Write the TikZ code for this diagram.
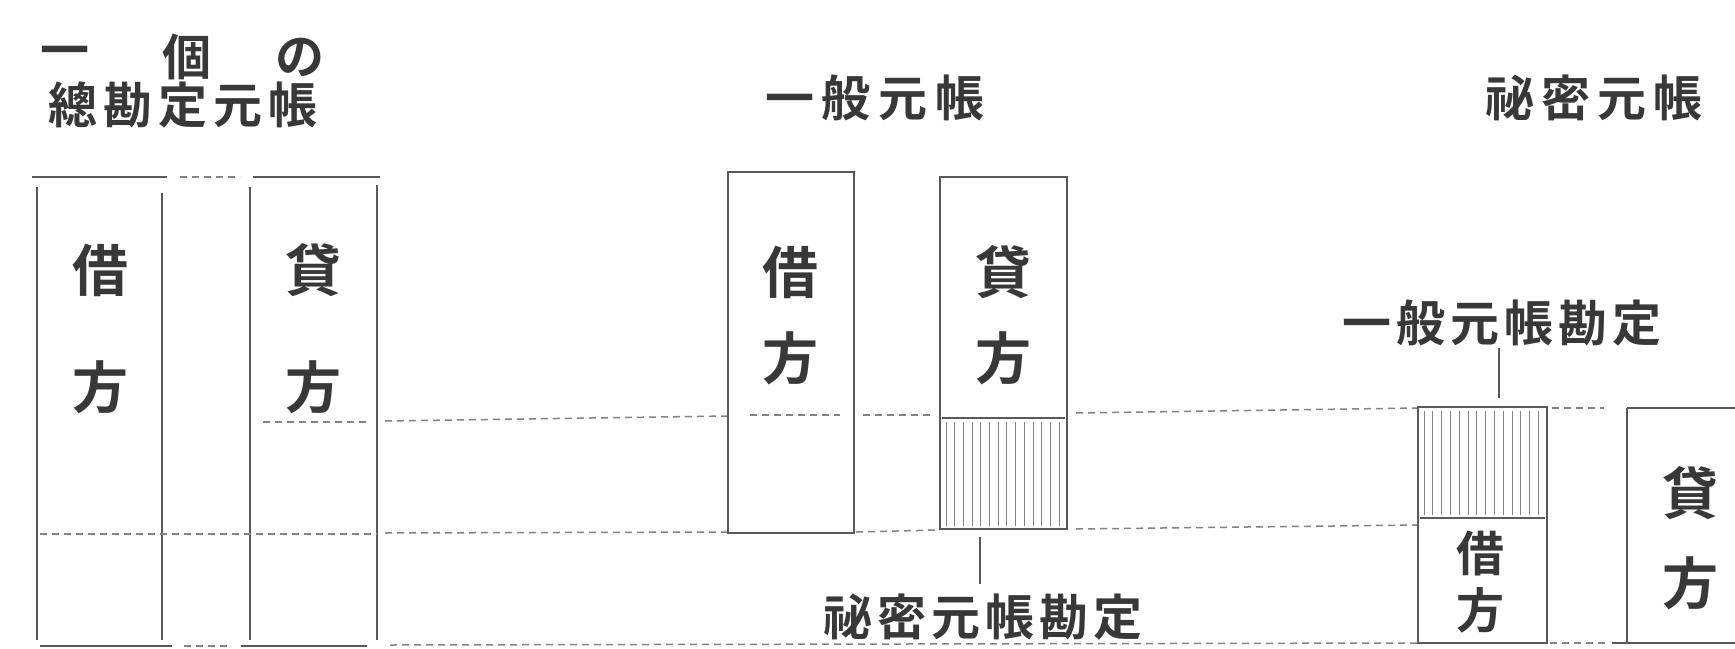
\documentclass[tikz,border=0pt]{standalone}
\usepackage{fontspec}
\newfontfamily\jpfont{Noto Sans CJK JP}[BoldFont={Noto Sans CJK JP Bold}]
\usetikzlibrary{calc}
\definecolor{ink}{HTML}{5A5A5A}
\definecolor{txt}{HTML}{383838}
\tikzset{
  rule/.style={draw=ink, line width=1.8pt},
  dashrule/.style={draw=ink!75, line width=1.5pt, dash pattern=on 7pt off 5pt},
  ledgerbox/.style={draw=ink, line width=1.8pt, inner sep=0pt, rectangle, fill=none},
  hatch/.style={draw=ink!75, line width=0.9pt},
  conn/.style={draw=ink, line width=1.3pt},
  bigchar/.style={font=\jpfont\bfseries\fontsize{56}{56}\selectfont, text=txt, inner sep=0pt},
  midchar/.style={font=\jpfont\bfseries\fontsize{48}{48}\selectfont, text=txt, inner sep=0pt},
  ttl/.style={font=\jpfont\bfseries\fontsize{49}{49}\selectfont, text=txt, inner sep=0pt},
}
\begin{document}
\begin{tikzpicture}[x=1pt, y=-1pt]
\useasboundingbox[fill=white] (0,0) rectangle (1735,648);

% ---------- titles ----------
\node[ttl] (t1a) at (65,57) {一};
\node[ttl] (t1b) at (187,57) {個};
\node[ttl] (t1c) at (300,57) {の};
\node[ttl] (t2) at (183,105) {總\kern6pt勘\kern6pt定\kern6pt元\kern6pt帳};
\node[ttl] (tgl) at (875,98) {一\kern8pt般\kern8pt元\kern8pt帳};
\node[ttl] (tsl) at (1594,98) {祕\kern7pt密\kern7pt元\kern7pt帳};

% ---------- left ledger (一個の總勘定元帳) ----------
\draw[rule] (32,177) -- (167,177);
\draw[dashrule] (180,177) -- (240,177);
\draw[rule] (253,177) -- (380,177);
\draw[rule] (37,187) -- (37,640);
\draw[rule] (162,193) -- (162,640);
\draw[rule] (250,187) -- (250,640);
\draw[rule] (377,185) -- (377,640);
\node[bigchar] (ld1) at (100,270) {借};
\node[bigchar] (ld2) at (100,387) {方};
\node[bigchar] (lc1) at (313,270) {貸};
\node[bigchar] (lc2) at (313,387) {方};

% ---------- dashed guide lines ----------
\draw[dashrule] (263,422) -- (368,422);
\draw[dashrule] (385,421) -- (728,416);
\draw[dashrule] (40,534) -- (377,534);
\draw[dashrule] (385,533) -- (728,532);

% ---------- general ledger (一般元帳) ----------
\node[ledgerbox, minimum width=126pt, minimum height=361pt] (glD) at (791,352.5) {};
\node[ledgerbox, minimum width=127pt, minimum height=352pt] (glC) at (1003.5,353) {};
\node[bigchar] (gd1) at (790,272) {借};
\node[bigchar] (gd2) at (790,358) {方};
\node[bigchar] (gc1) at (1003,272) {貸};
\node[bigchar] (gc2) at (1003,358) {方};
\draw[dashrule] (750,415) -- (840,415);
\draw[dashrule] (863,415) -- (933,415);
\draw[dashrule] (856,532) -- (938,530);
\draw[rule, line width=1.3pt] (942,418) -- (1065,418);
\foreach \i in {0,...,13} {
  \draw[hatch] (946+\i*8.7,422) -- (946+\i*8.7,526);
}
\draw[dashrule] (1076,413) -- (1418,408);
\draw[dashrule] (1076,529) -- (1418,525);

% label under the general ledger
\node[ttl] (lblS) at (983,617) {祕\kern5pt密\kern5pt元\kern5pt帳\kern5pt勘\kern5pt定};
\coordinate (cS) at (980,529);
\draw[conn, shorten <=8pt, shorten >=10pt] (cS) -- (lblS.north -| cS);

% ---------- secret ledger (祕密元帳) ----------
\node[ttl] (lblG) at (1502,323) {一\kern5pt般\kern5pt元\kern5pt帳\kern5pt勘\kern5pt定};
\node[ledgerbox, minimum width=129pt, minimum height=236pt] (sbox) at (1482.5,525) {};
\coordinate (cG) at (1499,407);
\draw[conn, shorten <=2pt, shorten >=9pt] (lblG.south -| cG) -- (cG);
\draw[rule, line width=1.3pt] (1420,518) -- (1545,518);
\foreach \i in {0,...,13} {
  \draw[hatch] (1424+\i*8.8,411) -- (1424+\i*8.8,515);
}
\node[midchar] (sd1) at (1480,553) {借};
\node[midchar] (sd2) at (1480,610) {方};
\draw[dashrule] (1552,408) -- (1604,408);
\draw[rule] (1627,408) -- (1735,408);
\draw[rule] (1627,408) -- (1627,643);
\node[bigchar] (sc1) at (1690,493) {貸};
\node[bigchar] (sc2) at (1690,583) {方};

% ---------- bottom rule ----------
\draw[rule] (40,646) -- (172,646);
\draw[dashrule] (184,646) -- (230,646);
\draw[rule] (241,646) -- (367,646);
\draw[dashrule] (390,645) -- (1418,643);
\draw[dashrule] (1550,643) -- (1606,643);
\draw[rule] (1612,643) -- (1735,643);
\end{tikzpicture}
\end{document}
